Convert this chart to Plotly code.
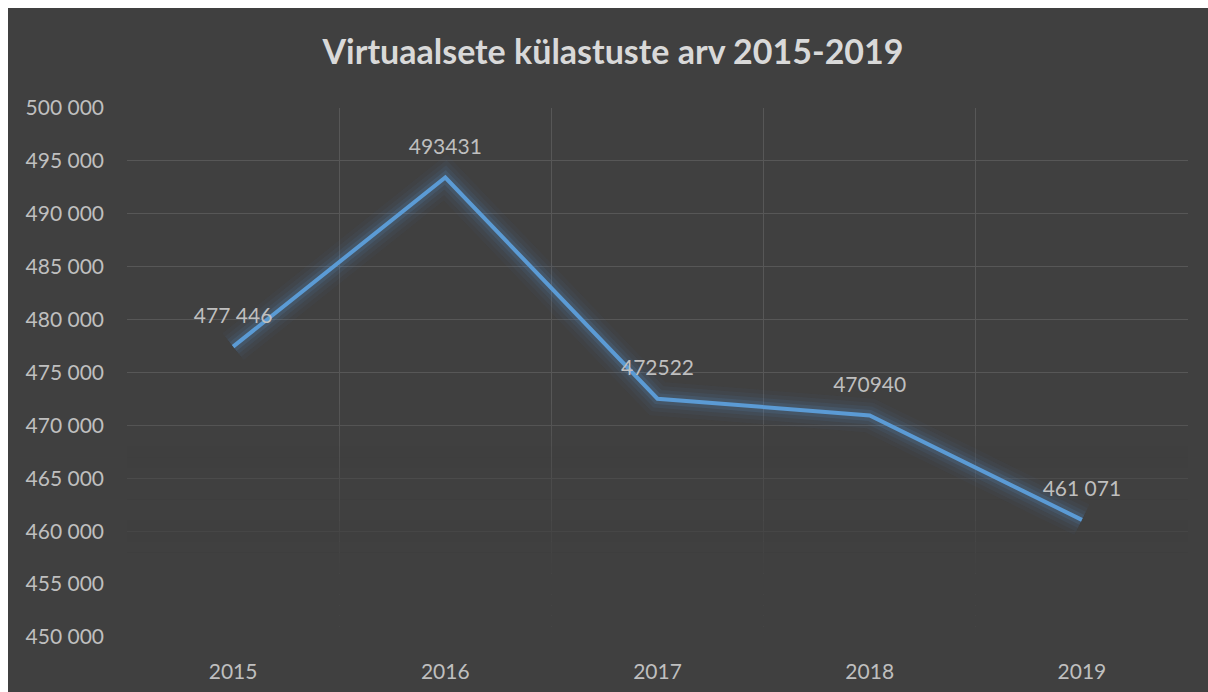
import plotly.graph_objects as go

years = ["2015", "2016", "2017", "2018", "2019"]
visits = [477446, 493431, 472522, 470940, 461071]
value_labels = ["477 446", "493431", "472522", "470940", "461 071"]
y_ticks = [450000, 455000, 460000, 465000, 470000, 475000, 480000, 485000, 490000, 495000, 500000]
y_tick_labels = ["450 000", "455 000", "460 000", "465 000", "470 000", "475 000",
                 "480 000", "485 000", "490 000", "495 000", "500 000"]
title_text = "Virtuaalsete külastuste arv 2015-2019"

BG = "#404040"
BLUE = "#5b9bd5"
TXT = "#bfbfbf"
FONT = "Lato, 'Open Sans', sans-serif"

fig = go.Figure()

# glow layers
for w, a in [(34, 0.035), (26, 0.05), (18, 0.08), (11, 0.13)]:
    fig.add_trace(go.Scatter(x=years, y=visits, mode="lines",
                             line=dict(color=f"rgba(91,155,213,{a})", width=w),
                             hoverinfo="skip", showlegend=False))

fig.add_trace(go.Scatter(x=years, y=visits, mode="lines",
                         line=dict(color=BLUE, width=4),
                         showlegend=False))

fig.add_trace(go.Scatter(x=years, y=visits, mode="markers+text",
                         text=value_labels, textposition="top center",
                         textfont=dict(family=FONT, size=21, color=TXT),
                         marker=dict(size=28, color="rgba(0,0,0,0)"),
                         hoverinfo="skip", showlegend=False))

# fade gridlines toward the bottom (bands drawn between gridlines and traces)
y_min, y_max = y_ticks[0], y_ticks[-1]
span = y_max - y_min
shapes = []
n = 25
for i in range(n):
    f0 = i * 0.02
    f1 = f0 + 0.02
    fc = (f0 + f1) / 2
    a = max(0.0, min(1.0, (0.45 - fc) / 0.33))
    if a <= 0:
        continue
    shapes.append(dict(type="rect", xref="x", yref="y", x0=-0.52, x1=4.52,
                       y0=y_min - (span * 0.01 if i == 0 else 0) + f0 * span,
                       y1=y_min + f1 * span,
                       fillcolor=BG, opacity=a, line=dict(width=0),
                       layer="between"))

W, H = 1210, 690
fig.update_layout(
    width=W, height=H,
    paper_bgcolor=BG, plot_bgcolor=BG,
    margin=dict(l=119, r=W - 119 - 1061, t=100, b=H - 100 - 529),
    title=dict(text=f"<b>{title_text}</b>", x=605 / W, xref="container", xanchor="center",
               y=1 - 44 / H, yanchor="middle", yref="container",
               font=dict(family=FONT, size=34, color="#d9d9d9")),
    xaxis=dict(type="category", range=[-0.5, 4.5], tickson="boundaries",
               showgrid=True, gridcolor="#575757", gridwidth=1,
               showline=False, zeroline=False, ticks="",
               ticklabelstandoff=20,
               tickfont=dict(family=FONT, size=21, color=TXT)),
    yaxis=dict(range=[y_min, y_max], tickvals=y_ticks, ticktext=y_tick_labels,
               showgrid=True, gridcolor="#575757", gridwidth=1,
               showline=False, zeroline=False, ticks="",
               ticklabelstandoff=22,
               tickfont=dict(family=FONT, size=21, color=TXT)),
    shapes=shapes,
    showlegend=False,
)

fig.write_html(
    "out.html",
    post_script="document.documentElement.style.overflow='hidden';"
                "document.body.style.overflow='hidden';"
                "document.body.style.margin='8px 0 0 8px';",
)
